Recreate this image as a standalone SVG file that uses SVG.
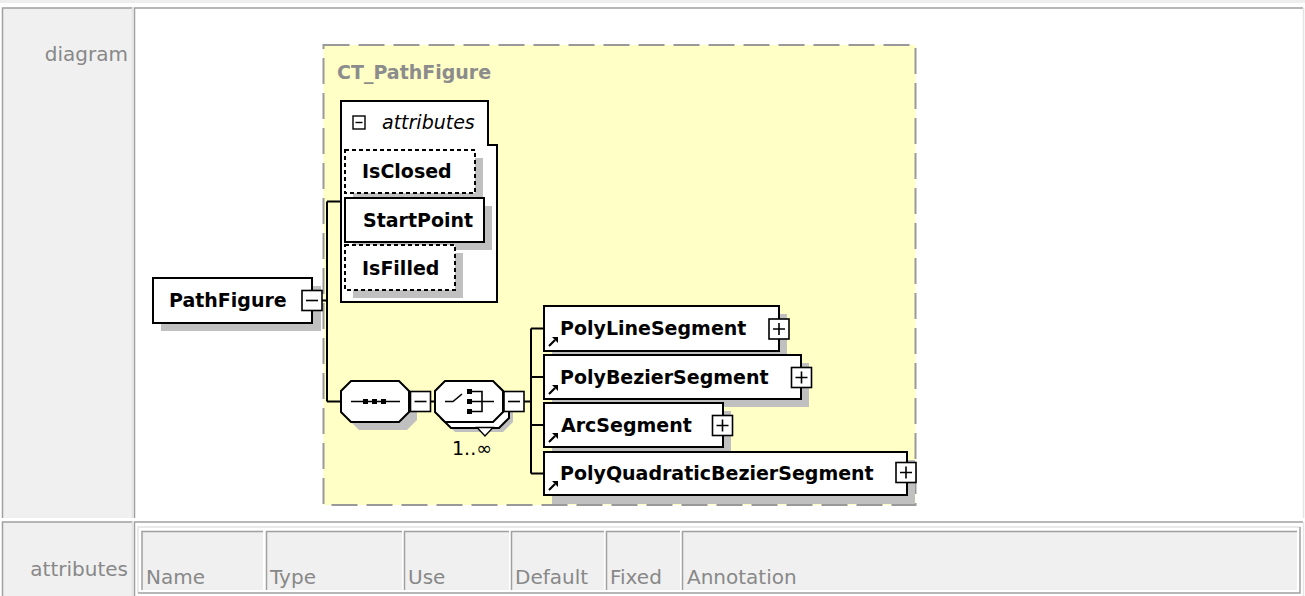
<svg xmlns="http://www.w3.org/2000/svg" width="1305" height="596" viewBox="0 0 1305 596">
<style>
.lbl{font-family:"DejaVu Sans",Verdana,sans-serif;font-size:20px;fill:#888}
.n{font-family:"DejaVu Sans",Verdana,sans-serif;font-size:19px;font-weight:bold;fill:#000}
.box{fill:#fff;stroke:#000;stroke-width:2}
.opt{fill:#fff;stroke:#000;stroke-width:2;stroke-dasharray:4 3}
.sh{fill:#c0c0c0}
.ln{stroke:#000;stroke-width:2;fill:none}
.dk{stroke:#a0a0a0;stroke-width:1.5;fill:none}
.lt{stroke:#e4e4e4;stroke-width:1.5;fill:none}
.hd{fill:#f0f0f0}
</style>
<defs>
<g id="minusBox"><rect x="0" y="0" width="20" height="20" fill="#fff" stroke="#000" stroke-width="1.6"/><path d="M4 10H16" stroke="#000" stroke-width="1.6"/></g>
<g id="plusBox"><rect x="0" y="0" width="20" height="20" fill="#fff" stroke="#000" stroke-width="1.6"/><path d="M4 10H16M10 4V16" stroke="#000" stroke-width="1.6"/></g>
<g id="ref"><path d="M0 0L6 -6" stroke="#000" stroke-width="2.2"/><path d="M3 -9H9V-3Z" fill="#000"/></g>
</defs>

<!-- page -->
<rect x="0" y="0" width="1305" height="596" fill="#fff"/>
<rect x="0" y="0" width="1305" height="3" fill="#eeeeee"/>

<!-- row 1 -->
<g id="row-diagram">
<rect class="hd" x="2.5" y="8" width="130" height="510"/>
<path class="dk" d="M2.5 518V8H132.5"/>
<path class="lt" d="M132.5 8V518"/>
<path class="dk" d="M134.5 518V8H1303"/>
<path class="lt" d="M1303.5 8V518"/>
<text class="lbl" x="128" y="61" text-anchor="end">diagram</text>
</g>

<!-- row 2 -->
<g id="row-attributes">
<rect class="hd" x="2.5" y="522" width="130" height="80"/>
<path class="dk" d="M2.5 600V522H132.5"/>
<path class="lt" d="M132.5 522V600"/>
<path class="dk" d="M134.5 600V522H1303"/>
<path class="lt" d="M1303.5 522V600"/>
<text class="lbl" x="128" y="576" text-anchor="end">attributes</text>
<path class="lt" d="M138 593V527H1300"/>
<path class="dk" d="M138 593H1300V527"/>
<rect class="hd" x="142" y="532" width="121" height="58"/>
<rect class="hd" x="267" y="532" width="135" height="58"/>
<rect class="hd" x="405" y="532" width="104" height="58"/>
<rect class="hd" x="512" y="532" width="92" height="58"/>
<rect class="hd" x="607" y="532" width="73" height="58"/>
<rect class="hd" x="683" y="532" width="614" height="58"/>
<path class="dk" d="M142 590V531.5H263M266.5 590V531.5H402M404.5 590V531.5H509M511.5 590V531.5H604M606.5 590V531.5H680M682.5 590V531.5H1297"/>
<text class="lbl" x="146" y="584">Name</text>
<text class="lbl" x="270" y="584">Type</text>
<text class="lbl" x="408" y="584">Use</text>
<text class="lbl" x="515" y="584">Default</text>
<text class="lbl" x="610" y="584">Fixed</text>
<text class="lbl" x="687" y="584">Annotation</text>
</g>

<!-- complex type container -->
<g id="CT_PathFigure">
<rect x="323.5" y="45" width="592" height="460" fill="#ffffc6" stroke="#999" stroke-width="2" stroke-dasharray="26 9"/>
<text x="337" y="79" font-family="DejaVu Sans, Verdana, sans-serif" font-size="19" font-weight="bold" fill="#8c8c8c">CT_PathFigure</text>
</g>

<!-- connectors -->
<g id="connectors">
<path class="ln" d="M322 300.5H327M327 201.5V401.5M327 201.5H341M327 401.5H341"/>
<path class="ln" d="M430 401.5H435"/>
<path class="ln" d="M524 401.5H531M531 328.5V473.5M531 328.5H544M531 377H544M531 425H544M531 473.5H544"/>
</g>

<!-- PathFigure element -->
<g id="PathFigure">
<rect class="sh" x="161" y="286" width="160" height="45"/>
<rect class="box" x="153" y="278" width="159" height="45"/>
<text class="n" x="169" y="307">PathFigure</text>
<use href="#minusBox" x="302" y="290.5"/>
</g>

<!-- attributes group -->
<g id="attributes">
<path d="M341 101H488V145H497V302H341Z" fill="#fff" stroke="#000" stroke-width="2"/>
<rect x="353" y="116" width="12" height="13" fill="#fff" stroke="#000" stroke-width="1.4"/>
<path d="M355.5 122.5H362.5" stroke="#000" stroke-width="1.4"/>
<text x="382" y="129" font-family="DejaVu Sans, Verdana, sans-serif" font-size="19" font-style="italic" fill="#000">attributes</text>
</g>

<g id="IsClosed">
<rect class="sh" x="353" y="158" width="130" height="43"/>
<rect class="opt" x="345" y="150" width="130" height="43"/>
<text class="n" x="362" y="178">IsClosed</text>
</g>

<g id="StartPoint">
<rect class="sh" x="353" y="206" width="139" height="44"/>
<rect class="box" x="345" y="198" width="139" height="44"/>
<text class="n" x="363" y="227">StartPoint</text>
</g>

<g id="IsFilled">
<rect class="sh" x="353" y="253" width="110" height="45"/>
<rect class="opt" x="345" y="245" width="110" height="45"/>
<text class="n" x="362" y="275">IsFilled</text>
</g>

<!-- sequence compositor -->
<g id="sequence">
<polygon class="sh" points="359,389 407,389 417,399 417,420 407,430 359,430 349,420 349,399"/>
<polygon class="box" points="351,381 399,381 409,391 409,412 399,422 351,422 341,412 341,391"/>
<path d="M351 401.5H400" stroke="#000" stroke-width="1.6"/>
<rect x="363" y="399" width="5" height="5"/>
<rect x="372" y="399" width="5" height="5"/>
<rect x="381" y="399" width="5" height="5"/>
<use href="#minusBox" x="410.5" y="391.5"/>
</g>

<!-- choice compositor (1..unbounded) -->
<g id="choice">
<polygon class="sh" points="455,395 503,395 513,405 513,422 503,432 455,432 445,422 445,405"/>
<polygon class="box" points="451,387 499,387 509,397 509,418 499,428 451,428 441,418 441,397"/>
<polygon class="box" points="445,381 493,381 503,391 503,412 493,422 445,422 435,412 435,391"/>
<path d="M445 401.5H453L462 394" stroke="#000" stroke-width="1.6" fill="none"/>
<rect x="467" y="389" width="5" height="5"/>
<rect x="467" y="399" width="5" height="5"/>
<rect x="467" y="409" width="5" height="5"/>
<path d="M472 391.5H482V411.5H472M472 401.5H494" stroke="#000" stroke-width="1.6" fill="none"/>
<polygon points="477,427.5 493,427.5 485,436" fill="#fff" stroke="#000" stroke-width="1.4"/>
<use href="#minusBox" x="504" y="391.5"/>
<text x="452" y="455" font-family="DejaVu Sans, Verdana, sans-serif" font-size="19" fill="#000">1..∞</text>
</g>

<!-- segment elements -->
<g id="PolyLineSegment">
<rect class="sh" x="552" y="314" width="235" height="45"/>
<rect class="box" x="544" y="306" width="235" height="45"/>
<use href="#ref" x="549" y="346"/>
<text class="n" x="560" y="335">PolyLineSegment</text>
<use href="#plusBox" x="769" y="319"/>
</g>

<g id="PolyBezierSegment">
<rect class="sh" x="552" y="363" width="257" height="44"/>
<rect class="box" x="544" y="355" width="257" height="44"/>
<use href="#ref" x="549" y="394"/>
<text class="n" x="560" y="383.5">PolyBezierSegment</text>
<use href="#plusBox" x="791.5" y="367.5"/>
</g>

<g id="ArcSegment">
<rect class="sh" x="552" y="411" width="179" height="44"/>
<rect class="box" x="544" y="403" width="179" height="44"/>
<use href="#ref" x="549" y="442"/>
<text class="n" x="561" y="432">ArcSegment</text>
<use href="#plusBox" x="712.5" y="415.5"/>
</g>

<g id="PolyQuadraticBezierSegment">
<rect class="sh" x="552" y="460" width="363" height="44"/>
<rect class="box" x="544" y="452" width="363" height="43"/>
<use href="#ref" x="549" y="490"/>
<text class="n" x="560" y="480">PolyQuadraticBezierSegment</text>
<use href="#plusBox" x="896" y="462.5"/>
</g>
</svg>
